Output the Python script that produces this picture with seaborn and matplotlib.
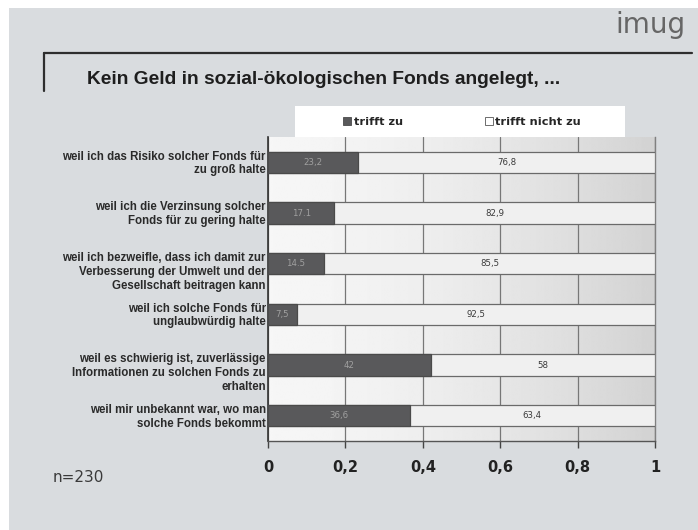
import numpy as np
import pandas as pd
import matplotlib
matplotlib.use("Agg")
import matplotlib.pyplot as plt
from matplotlib.patches import Rectangle, Patch
from matplotlib.lines import Line2D
import seaborn as sns

# Survey answers: reasons for not investing in socially responsible funds
categories = [
    "weil ich das Risiko solcher Fonds für\nzu groß halte",
    "weil ich die Verzinsung solcher\nFonds für zu gering halte",
    "weil ich bezweifle, dass ich damit zur\nVerbesserung der Umwelt und der\nGesellschaft beitragen kann",
    "weil ich solche Fonds für\nunglaubwürdig halte",
    "weil es schwierig ist, zuverlässige\nInformationen zu solchen Fonds zu\nerhalten",
    "weil mir unbekannt war, wo man\nsolche Fonds bekommt",
]
trifft_zu = [23.2, 17.1, 14.5, 7.5, 42.0, 36.6]
trifft_nicht_zu = [76.8, 82.9, 85.5, 92.5, 58.0, 63.4]
trifft_zu_labels = ["23,2", "17.1", "14.5", "7,5", "42", "36,6"]
trifft_nicht_zu_labels = ["76,8", "82,9", "85,5", "92,5", "58", "63,4"]
x_ticks = [0, 0.2, 0.4, 0.6, 0.8, 1.0]
x_tick_labels = ["0", "0,2", "0,4", "0,6", "0,8", "1"]

DARK = "#59595b"
LIGHT = "#f0f0f0"
EDGE = "#4a4a4a"
SLIDE = "#d9dcdf"

df = pd.DataFrame({
    "grund": categories,
    "zu": np.array(trifft_zu) / 100.0,
    "gesamt": (np.array(trifft_zu) + np.array(trifft_nicht_zu)) / 100.0,
})

sns.set_theme(style="white")
plt.rcParams["font.family"] = ["Liberation Sans", "DejaVu Sans"]

W, H = 698, 530
fig = plt.figure(figsize=(W / 100, H / 100), dpi=100)
fig.patch.set_facecolor("white")

# slide background with thin white margin top/left
fig.patches.append(Rectangle((9 / W, 0), 1 - 9 / W, 1 - 8 / H, transform=fig.transFigure,
                             facecolor=SLIDE, edgecolor="none", zorder=-10))

# header rule and bracket
fig.add_artist(Line2D([44 / W, 692 / W], [1 - 53 / H, 1 - 53 / H], transform=fig.transFigure,
                      color="#2e2e2e", lw=1.6))
fig.add_artist(Line2D([44 / W, 44 / W], [1 - 53 / H, 1 - 91 / H], transform=fig.transFigure,
                      color="#2e2e2e", lw=1.6))

fig.text(686 / W, 1 - 33 / H, "imug", ha="right", va="baseline", fontsize=20,
         color="#666666", family="DejaVu Sans")
fig.text(87 / W, 1 - 84 / H, "Kein Geld in sozial-ökologischen Fonds angelegt, ...",
         ha="left", va="baseline", fontsize=13.8, fontweight="bold", color="#1e1e1e")
fig.text(53 / W, 1 - 477 / H, "n=230", ha="left", va="center", fontsize=11,
         color="#3a3a3a", family="DejaVu Sans")

# legend panel
fig.patches.append(Rectangle((295 / W, 1 - 137 / H), 330 / W, 31 / H, transform=fig.transFigure,
                             facecolor="white", edgecolor="none", zorder=-5))
handles = [Patch(facecolor=DARK, edgecolor=EDGE, lw=0.6, label="trifft zu"),
           Patch(facecolor="white", edgecolor="#555555", lw=0.6, label="trifft nicht zu")]
fig.legend(handles=handles, loc="center left", bbox_to_anchor=(337 / W, 1 - 122 / H),
           ncol=2, frameon=False, handlelength=0.7, handleheight=0.7, handletextpad=0.25,
           columnspacing=7.2, borderpad=0,
           prop={"family": "DejaVu Sans", "weight": "bold", "size": 8.2}, labelcolor="#262626")

ax = fig.add_axes([268 / W, 1 - 441 / H, 387 / W, 304 / H])

# plot area shading: light on the left, greyer to the right
grad = np.linspace(0, 1, 256)
shade = 0.965 - 0.14 * grad ** 1.6
ax.imshow(shade[np.newaxis, :], cmap="gray", vmin=0, vmax=1, aspect="auto",
          extent=[0, 1, len(categories) - 0.5, -0.5], zorder=0, interpolation="bilinear")

bar_w = 0.42
sns.barplot(data=df, x="gesamt", y="grund", orient="h", color=LIGHT, saturation=1,
            width=bar_w, edgecolor="#6a6a6a", linewidth=0.9, ax=ax, zorder=3)
sns.barplot(data=df, x="zu", y="grund", orient="h", color=DARK, saturation=1,
            width=bar_w, edgecolor=EDGE, linewidth=0.9, ax=ax, zorder=4)

ax.bar_label(ax.containers[1], labels=trifft_zu_labels, label_type="center",
             fontsize=6.2, color="#a0a0a0", family="DejaVu Sans", zorder=6)
for i, (z, n, lab) in enumerate(zip(trifft_zu, trifft_nicht_zu, trifft_nicht_zu_labels)):
    ax.text(z / 100 + n / 200, i, lab, ha="center", va="center", fontsize=6.2,
            color="#3a3a3a", family="DejaVu Sans", zorder=6)

ax.set_xlim(0, 1)
ax.set_ylim(len(categories) - 0.5, -0.5)
ax.set_xlabel("")
ax.set_ylabel("")
ax.set_yticks([])

# category texts hang from the top edge of each bar
for i, cat in enumerate(categories):
    ax.text(-0.006, i - bar_w / 2 - 0.02, cat, transform=ax.get_yaxis_transform(),
            ha="right", va="top", fontsize=8.3, fontweight="bold", color="#2a2a2a",
            linespacing=1.2)

ax.set_xticks(x_ticks)
ax.set_xticklabels(x_tick_labels, fontsize=10.5, fontweight="bold", color="#222222",
                   family="DejaVu Sans")
ax.tick_params(axis="x", direction="out", length=5, width=1, color="#444444", pad=9,
               bottom=True)
ax.grid(axis="x", color="#777777", lw=0.9, zorder=1)
ax.grid(axis="y", visible=False)
ax.set_axisbelow(True)

ax.spines["top"].set_visible(False)
ax.spines["left"].set_color("#333333")
ax.spines["left"].set_linewidth(1.2)
ax.spines["bottom"].set_color("#555555")
ax.spines["bottom"].set_linewidth(1.0)
ax.spines["right"].set_color("#808080")
ax.spines["right"].set_linewidth(1.0)
ax.spines["right"].set_visible(True)

fig.savefig("out.png", dpi=100)
